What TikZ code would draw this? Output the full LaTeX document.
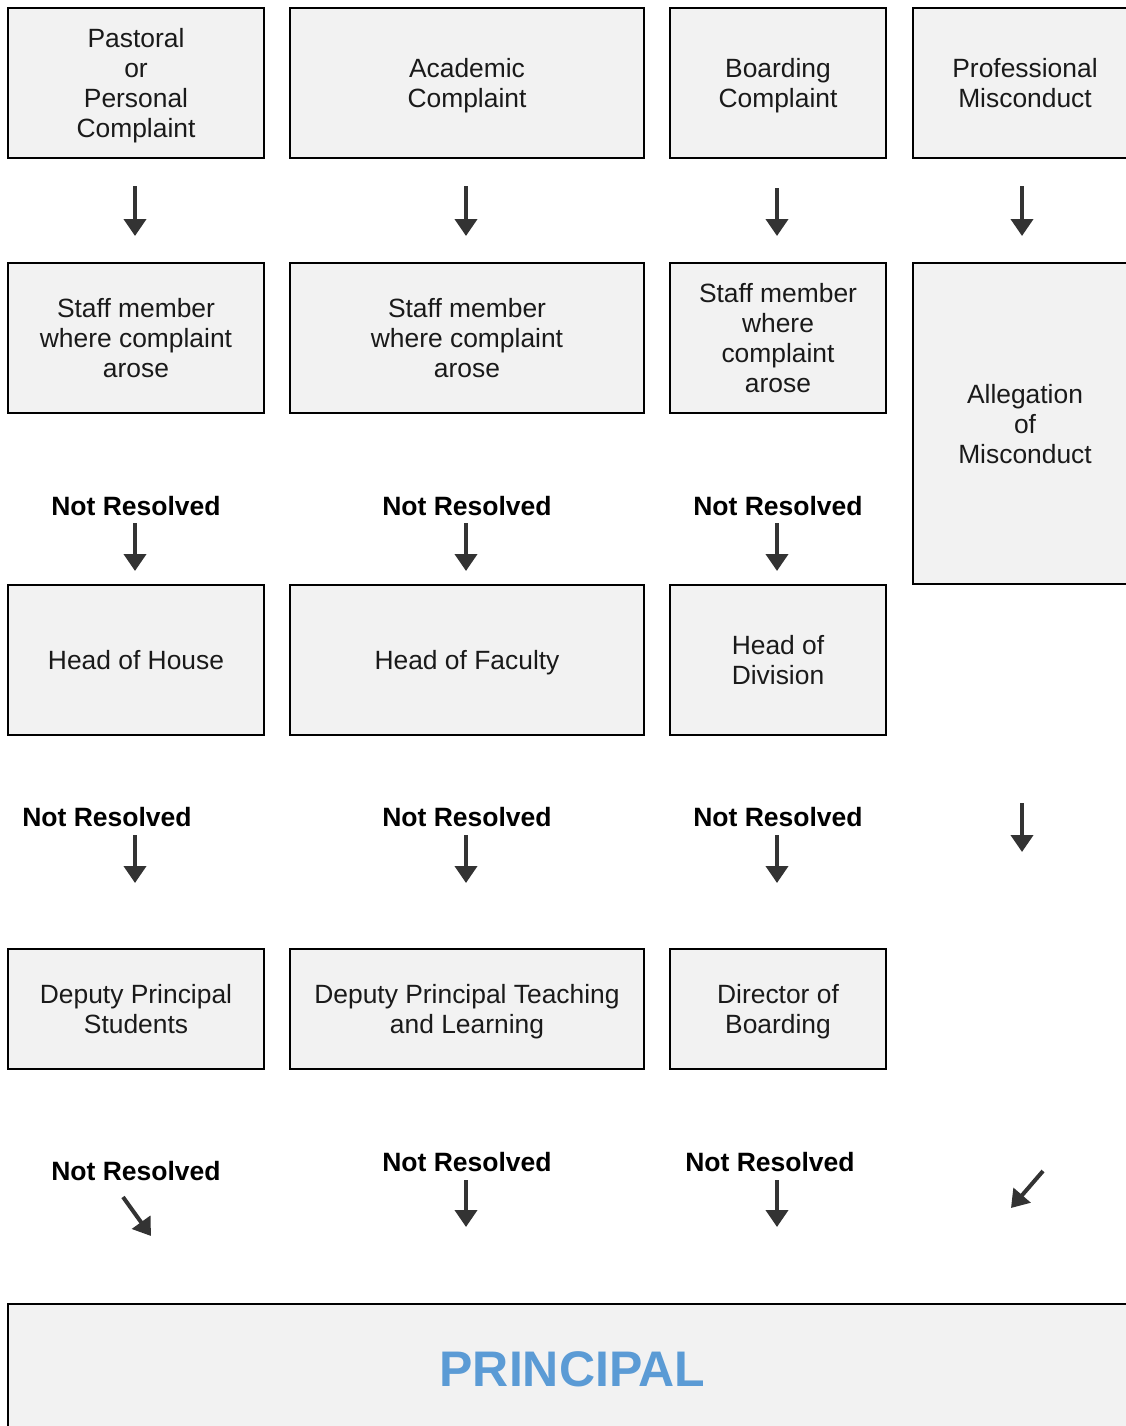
\documentclass[tikz,border=0pt]{standalone}
\usepackage{fontspec}
\setmainfont{Liberation Sans}
\usetikzlibrary{arrows.meta}
\definecolor{boxfill}{HTML}{F2F2F2}
\definecolor{arrowgray}{HTML}{333333}
\definecolor{txt}{HTML}{1A1A1A}
\definecolor{princ}{HTML}{5B9BD5}
\newcommand{\mystrut}{\rule[-8pt]{0pt}{35pt}}
\tikzset{
  box/.style={draw=black, line width=2.5pt, fill=boxfill, inner sep=0pt, align=center,
    text=txt, font=\fontsize{26.4}{30}\selectfont,
    execute at end node=\mystrut},
  nr/.style={inner sep=0pt, text=black, font=\bfseries\fontsize{26.5}{30}\selectfont},
  arr/.style={draw=arrowgray, line width=4pt, -{Triangle[width=22pt,length=17pt]}},
}
\begin{document}
\begin{tikzpicture}[x=1pt,y=-1pt]
\useasboundingbox (0,0) rectangle (1125,1426);
% row 1
\node[box, minimum width=256, minimum height=150] (p1) at (136,83) {\mystrut Pastoral\\or\\Personal\\Complaint};
\node[box, minimum width=354, minimum height=150] (a1) at (467,83) {\mystrut Academic\\Complaint};
\node[box, minimum width=216, minimum height=150] (b1) at (778,83) {\mystrut Boarding\\Complaint};
\node[box, minimum width=224, minimum height=150] (m1) at (1025,83) {\mystrut Professional\\Misconduct};
% row 2
\node[box, minimum width=256, minimum height=150] (p2) at (136,338) {\mystrut Staff member\\where complaint\\arose};
\node[box, minimum width=354, minimum height=150] (a2) at (467,338) {\mystrut Staff member\\where complaint\\arose};
\node[box, minimum width=216, minimum height=150] (b2) at (778,338) {\mystrut Staff member\\where\\complaint\\arose};
\node[box, minimum width=224, minimum height=321] (m2) at (1025,423.5) {\mystrut Allegation\\of\\Misconduct};
% row 3
\node[box, minimum width=256, minimum height=150] (p3) at (136,660) {Head of House};
\node[box, minimum width=354, minimum height=150] (a3) at (467,660) {Head of Faculty};
\node[box, minimum width=216, minimum height=150] (b3) at (778,660) {\mystrut Head of\\Division};
% row 4
\node[box, minimum width=256, minimum height=120] (p4) at (136,1009) {\mystrut Deputy Principal\\Students};
\node[box, minimum width=354, minimum height=120] (a4) at (467,1009) {\mystrut Deputy Principal Teaching\\and Learning};
\node[box, minimum width=216, minimum height=120] (b4) at (778,1009) {\mystrut Director of\\Boarding};
% principal
\node[box, minimum width=1129, minimum height=138, text=princ, font=\bfseries\fontsize{50}{56}\selectfont,
  execute at end node={}] (pr) at (572.5,1373) {PRINCIPAL};

% Not Resolved labels
\node[nr] (n1a) at (136,506) {Not Resolved};
\node[nr] (n1b) at (467,506) {Not Resolved};
\node[nr] (n1c) at (778,506) {Not Resolved};
\node[nr] (n2a) at (107,817) {Not Resolved};
\node[nr] (n2b) at (467,817) {Not Resolved};
\node[nr] (n2c) at (778,817) {Not Resolved};
\node[nr] (n3a) at (136,1171) {Not Resolved};
\node[nr] (n3b) at (467,1162) {Not Resolved};
\node[nr] (n3c) at (770,1162) {Not Resolved};

% arrow coordinates
\coordinate (s11) at (135,186); \coordinate (e11) at (135,236);
\coordinate (s12) at (466,186); \coordinate (e12) at (466,236);
\coordinate (s13) at (777,188); \coordinate (e13) at (777,236);
\coordinate (s14) at (1022,186); \coordinate (e14) at (1022,236);
\coordinate (s21) at (135,523); \coordinate (e21) at (135,571);
\coordinate (s22) at (466,523); \coordinate (e22) at (466,571);
\coordinate (s23) at (777,523); \coordinate (e23) at (777,571);
\coordinate (s31) at (135,835); \coordinate (e31) at (135,883);
\coordinate (s32) at (466,835); \coordinate (e32) at (466,883);
\coordinate (s33) at (777,835); \coordinate (e33) at (777,883);
\coordinate (s34) at (1022,803); \coordinate (e34) at (1022,852);
\coordinate (s41) at (123,1197); \coordinate (e41) at (151,1236);
\coordinate (s42) at (466,1180); \coordinate (e42) at (466,1227);
\coordinate (s43) at (777,1180); \coordinate (e43) at (777,1227);
\coordinate (s44) at (1043,1171); \coordinate (e44) at (1011,1208);

\foreach \a in {11,12,13,14,21,22,23,31,32,33,34,41,42,43,44}
  \draw[arr] (s\a) -- (e\a);
\end{tikzpicture}
\end{document}
